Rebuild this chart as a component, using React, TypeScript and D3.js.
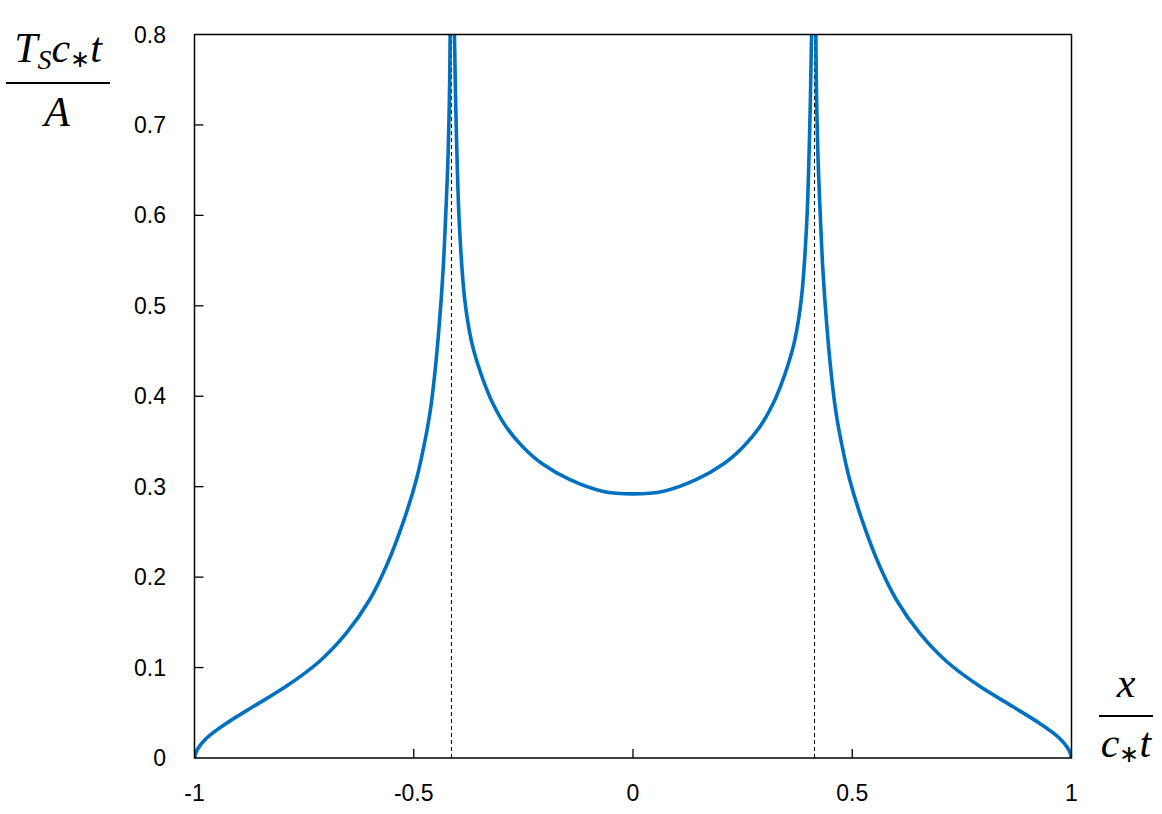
import React from "react";
import * as d3 from "d3";

// Left outer branch (x from -1 up to the left singularity)
const leftX = [-1.0, -0.994, -0.9727, -0.927, -0.866, -0.79, -0.7146, -0.6538, -0.6006, -0.5627, -0.5246, -0.494, -0.4715, -0.462, -0.452, -0.442, -0.433, -0.4285, -0.4245, -0.4215, -0.4185, -0.417, -0.4152];
const leftY = [0.0, 0.0089, 0.0218, 0.0384, 0.0569, 0.0795, 0.107, 0.138, 0.175, 0.212, 0.26, 0.308, 0.358, 0.385, 0.425, 0.478, 0.54, 0.585, 0.63, 0.67, 0.735, 0.8, 0.95];

// Middle branch (between the two singularities)
const midX = [-0.4105, -0.4075, -0.403, -0.396, -0.384, -0.369, -0.355, -0.3387, -0.3196, -0.289, -0.251, -0.206, -0.145, -0.07, 0.0, 0.07, 0.145, 0.206, 0.251, 0.289, 0.3196, 0.3387, 0.355, 0.369, 0.384, 0.396, 0.403, 0.4075, 0.4105];
const midY = [0.95, 0.807, 0.696, 0.59, 0.508, 0.462, 0.437, 0.414, 0.392, 0.366, 0.344, 0.325, 0.308, 0.295, 0.292, 0.295, 0.308, 0.325, 0.344, 0.366, 0.392, 0.414, 0.437, 0.462, 0.508, 0.59, 0.696, 0.807, 0.95];

// Right outer branch
const rightX = [0.4152, 0.417, 0.4185, 0.4215, 0.4245, 0.4285, 0.433, 0.442, 0.452, 0.462, 0.4715, 0.494, 0.5246, 0.5627, 0.6006, 0.6538, 0.7146, 0.79, 0.866, 0.927, 0.9727, 0.994, 1.0];
const rightY = [0.95, 0.8, 0.735, 0.67, 0.63, 0.585, 0.54, 0.478, 0.425, 0.385, 0.358, 0.308, 0.26, 0.212, 0.175, 0.138, 0.107, 0.0795, 0.0569, 0.0384, 0.0218, 0.0089, 0.0];

const dashX = [-0.414, 0.414];
const xTicks = [-1, -0.5, 0, 0.5, 1];
const xTickLabels = ["-1", "-0.5", "0", "0.5", "1"];
const yTicks = [0, 0.1, 0.2, 0.3, 0.4, 0.5, 0.6, 0.7, 0.8];
const yTickLabels = ["0", "0.1", "0.2", "0.3", "0.4", "0.5", "0.6", "0.7", "0.8"];

const W = 1162;
const H = 814;
const L = 194.5, R = 1071.5, T = 34.5, B = 758;

export default function App() {
  const x = d3.scaleLinear().domain([-1, 1]).range([L, R]);
  const y = d3.scaleLinear().domain([0, 0.8]).range([B, T]);
  const line = d3
    .line<[number, number]>()
    .x((d) => x(d[0]))
    .y((d) => y(d[1]))
    .curve(d3.curveCatmullRom.alpha(0.5));
  const branches = [
    [leftX, leftY],
    [midX, midY],
    [rightX, rightY],
  ].map(([xs, ys]) => xs.map((v, i) => [v, ys[i]] as [number, number]));

  const font = "'Liberation Sans', Arial, sans-serif";
  const serif = "'Liberation Serif', 'Times New Roman', serif";

  return (
    <svg
      width={W}
      height={H}
      style={{ position: "absolute", left: 0, top: 0, background: "#fff" }}
    >
      <defs>
        <clipPath id="plotclip">
          <rect x={L} y={T} width={R - L} height={B - T} />
        </clipPath>
      </defs>
      <rect x={0} y={0} width={W} height={H} fill="#fff" />

      {/* dashed verticals */}
      {dashX.map((v, i) => (
        <line
          key={"d" + i}
          x1={x(v)}
          x2={x(v)}
          y1={y(0)}
          y2={y(0.8)}
          stroke="#000"
          strokeWidth={1}
          strokeDasharray="4,3"
        />
      ))}

      {/* curve */}
      <g clipPath="url(#plotclip)">
        {branches.map((b, i) => (
          <path
            key={"b" + i}
            d={line(b) || ""}
            fill="none"
            stroke="#0070C0"
            strokeWidth={3.6}
            strokeLinejoin="round"
          />
        ))}
      </g>

      {/* frame */}
      <rect x={L} y={T} width={R - L} height={B - T} fill="none" stroke="#000" strokeWidth={1.5} />

      {/* x ticks */}
      {xTicks.map((v, i) => (
        <g key={"xt" + i}>
          {i > 0 && i < xTicks.length - 1 && (
            <line x1={x(v)} x2={x(v)} y1={B} y2={B - 9} stroke="#000" strokeWidth={1.3} />
          )}
          <text
            x={x(v)}
            y={793}
            textAnchor="middle"
            dominantBaseline="central"
            fontFamily={font}
            fontSize={23}
            fill="#000"
          >
            {xTickLabels[i]}
          </text>
        </g>
      ))}

      {/* y ticks */}
      {yTicks.map((v, i) => (
        <g key={"yt" + i}>
          {i > 0 && i < yTicks.length - 1 && (
            <line x1={L} x2={L + 9} y1={y(v)} y2={y(v)} stroke="#000" strokeWidth={1.3} />
          )}
          <text
            x={166}
            y={y(v)}
            textAnchor="end"
            dominantBaseline="central"
            fontFamily={font}
            fontSize={23}
            fill="#000"
          >
            {yTickLabels[i]}
          </text>
        </g>
      ))}

      {/* y axis label: T_S c_* t / A */}
      <g fontFamily={serif} fontStyle="italic" fill="#000">
        <text x={58} y={62} textAnchor="middle" fontSize={42}>
          <tspan>T</tspan>
          <tspan fontSize={28} dy={7}>S</tspan>
          <tspan dy={-7}>c</tspan>
          <tspan fontSize={24} fontStyle="normal" dy={5}>∗</tspan>
          <tspan dy={-5}>t</tspan>
        </text>
        <line x1={6} x2={110} y1={83} y2={83} stroke="#000" strokeWidth={2} />
        <text x={57} y={126} textAnchor="middle" fontSize={42}>A</text>
      </g>

      {/* x axis label: x / c_* t */}
      <g fontFamily={serif} fontStyle="italic" fill="#000">
        <text x={1126} y={697} textAnchor="middle" fontSize={42}>x</text>
        <line x1={1099} x2={1153} y1={716} y2={716} stroke="#000" strokeWidth={2} />
        <text x={1126} y={757} textAnchor="middle" fontSize={42}>
          <tspan>c</tspan>
          <tspan fontSize={24} fontStyle="normal" dy={5}>∗</tspan>
          <tspan dy={-5}>t</tspan>
        </text>
      </g>
    </svg>
  );
}
